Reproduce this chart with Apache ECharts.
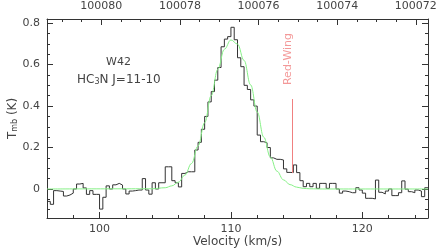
<!DOCTYPE html>
<html><head><meta charset="utf-8">
<script src="https://cdn.jsdelivr.net/npm/echarts@6/dist/echarts.min.js"></script>
<style>html,body{margin:0;padding:0;background:#fff}#c{width:436px;height:250px}</style>
</head><body><div id="c"></div>
<script>
// ---- data ----
const velStart = 96.0;          // left edge of first channel (km/s)
const chanWidth = 0.25;         // channel width (km/s)
const spectrumT = [
  -0.06, -0.074, -0.008, -0.01, -0.012, -0.034, -0.029, -0.02, 0.0, 0.024,
  0.027, 0.005, -0.026, -0.008, -0.026, -0.026, -0.097, -0.04, 0.015, 0.0,
  0.02, 0.027, 0.019, 0.0, -0.024, -0.01, -0.008, -0.005, -0.005, 0.05,
  -0.005, -0.025, 0.03, 0.0, 0.03, 0.03, 0.107, 0.107, 0.04, 0.03,
  0.01, 0.075, 0.083, 0.083, 0.083, 0.188, 0.225, 0.288, 0.35, 0.42,
  0.47, 0.525, 0.586, 0.686, 0.723, 0.735, 0.78, 0.72, 0.633, 0.59,
  0.50, 0.48, 0.43, 0.40, 0.26, 0.228, 0.223, 0.2, 0.15, 0.143,
  0.143, 0.14, 0.097, 0.08, 0.079, 0.116, 0.079, 0.04, 0.011, 0.027,
  0.011, 0.027, 0.003, 0.027, 0.027, 0.003, 0.027, 0.027, 0.0, -0.02,
  -0.01, -0.013, -0.018, -0.018, 0.006, -0.005, -0.02, -0.045, -0.045, -0.048,
  0.043, -0.016, -0.024, -0.01, 0.0, -0.032, -0.032, -0.018, 0.039, -0.001,
  -0.013, -0.018, -0.005, -0.01, -0.037, 0.006
];
const fitV = [96, 104, 105, 105.5, 106, 106.5, 107, 107.5, 108, 108.5, 109, 109.5, 110, 110.5,
              111, 111.5, 112, 112.5, 113, 113.5, 114, 114.5, 115, 115.5, 116, 117, 125];
const fitT = [0, 0.001, 0.006, 0.015, 0.033, 0.067, 0.123, 0.208, 0.32, 0.45, 0.577, 0.674, 0.719, 0.699,
              0.62, 0.502, 0.371, 0.25, 0.154, 0.086, 0.044, 0.021, 0.009, 0.003, 0.001, 0, 0];
const velRange = [96, 125];
const freqRange = [100071.69, 100081.38];
const tRange = [-0.14, 0.82];
const redWingV = 114.68;
const redWingT = [0.077, 0.434];
const redWingLabel = [114.35, 0.627];
const sourceName = 'W42';
const lineName = '{a|HC}{s|3}{a|N J=11-10}';

// ---- build ----
const spectrumData = [];
for (let i = 0; i < spectrumT.length; i++) spectrumData.push([velStart + i * chanWidth, spectrumT[i]]);
spectrumData.push([velStart + spectrumT.length * chanWidth, spectrumT[spectrumT.length - 1]]);
const fitData = fitV.map((v, i) => [v, fitT[i]]);

const axisColor = '#333';
const textColor = '#444';
const FONT = 'DejaVu Sans';

function xAx(pos, range, step, tickLen, showLabel, extra) {
  return Object.assign({
    type: 'value', position: pos, min: range[0], max: range[1],
    minInterval: step, maxInterval: step,
    axisLine: { show: showLabel, onZero: false, lineStyle: { color: axisColor, width: 1 } },
    axisTick: { show: true, inside: true, length: tickLen, lineStyle: { color: axisColor, width: 1 } },
    axisLabel: { show: showLabel, color: textColor, fontSize: 11, fontFamily: FONT,
                 showMinLabel: false, showMaxLabel: false },
    splitLine: { show: false }, minorTick: { show: false }
  }, extra || {});
}

const option = {
  animation: false,
  grid: { left: 47, right: 8, top: 19, bottom: 32, containLabel: false, outerBoundsMode: 'none' },
  xAxis: [
    xAx('bottom', velRange, 10, 6, true, {
      name: 'Velocity (km/s)', nameLocation: 'middle', nameGap: 18, nameMoveOverlap: false,
      nameTextStyle: { color: textColor, fontSize: 12, fontFamily: FONT }
    }),
    xAx('bottom', velRange, 2, 3, false),
    xAx('top', freqRange, 2, 6, true, { inverse: true }),
    xAx('top', freqRange, 0.5, 3, false, { inverse: true })
  ],
  yAxis: [
    xAx('left', tRange, 0.2, 6, true, {
      name: '{a|T}{s|mb}{a| (K)}', nameLocation: 'middle', nameGap: 28, nameRotate: 90, nameMoveOverlap: false,
      nameTextStyle: { color: textColor, fontFamily: FONT,
        rich: { a: { fontSize: 12, lineHeight: 16, color: textColor, fontFamily: FONT, verticalAlign: 'bottom' },
                s: { fontSize: 8, lineHeight: 9, color: textColor, fontFamily: FONT, verticalAlign: 'bottom' } } }
    }),
    xAx('left', tRange, 0.05, 3, false),
    xAx('right', tRange, 0.2, 6, false, { axisLine: { show: true, onZero: false, lineStyle: { color: axisColor, width: 1 } } }),
    xAx('right', tRange, 0.05, 3, false)
  ],
  series: [
    {
      type: 'line', xAxisIndex: 0, yAxisIndex: 0, step: 'end', data: spectrumData,
      showSymbol: false, symbol: 'none', lineStyle: { color: '#333', width: 1 }, z: 3,
      markLine: {
        silent: true, symbol: ['none', 'none'], label: { show: false },
        lineStyle: { color: '#f08080', width: 1, type: 'solid' },
        data: [[{ coord: [redWingV, redWingT[0]] }, { coord: [redWingV, redWingT[1]] }]]
      }
    },
    {
      type: 'line', xAxisIndex: 0, yAxisIndex: 0, data: fitData, smooth: 0.4, smoothMonotone: 'x',
      showSymbol: false, symbol: 'none', lineStyle: { color: '#86f086', width: 1 }, z: 4
    },
    {
      type: 'scatter', xAxisIndex: 0, yAxisIndex: 0, data: [redWingLabel], symbolSize: 0, silent: true,
      label: { show: true, position: 'inside', rotate: 90, formatter: 'Red-Wing',
               color: '#f08080', fontSize: 11, fontFamily: FONT }
    }
  ],
  graphic: [
    { type: 'text', left: 106, top: 57, silent: true,
      style: { text: sourceName, font: '11px "DejaVu Sans"', fill: textColor } },
    { type: 'text', left: 77, top: 74, silent: true,
      style: { text: lineName, fill: textColor,
        rich: { a: { fontSize: 12, lineHeight: 16, fontFamily: FONT, fill: textColor, verticalAlign: 'bottom' },
                s: { fontSize: 8, lineHeight: 9, fontFamily: FONT, fill: textColor, verticalAlign: 'bottom' } } } }
  ]
};
option.xAxis[2].axisLabel.formatter = v => String(Math.round(v));
option.xAxis[2].axisLabel.margin = 7;
option.xAxis[0].axisLabel.margin = 6;
option.yAxis[0].axisLabel.margin = 7;

const chart = echarts.init(document.getElementById('c'), null, { renderer: 'canvas' });
chart.setOption(option);
</script></body></html>
